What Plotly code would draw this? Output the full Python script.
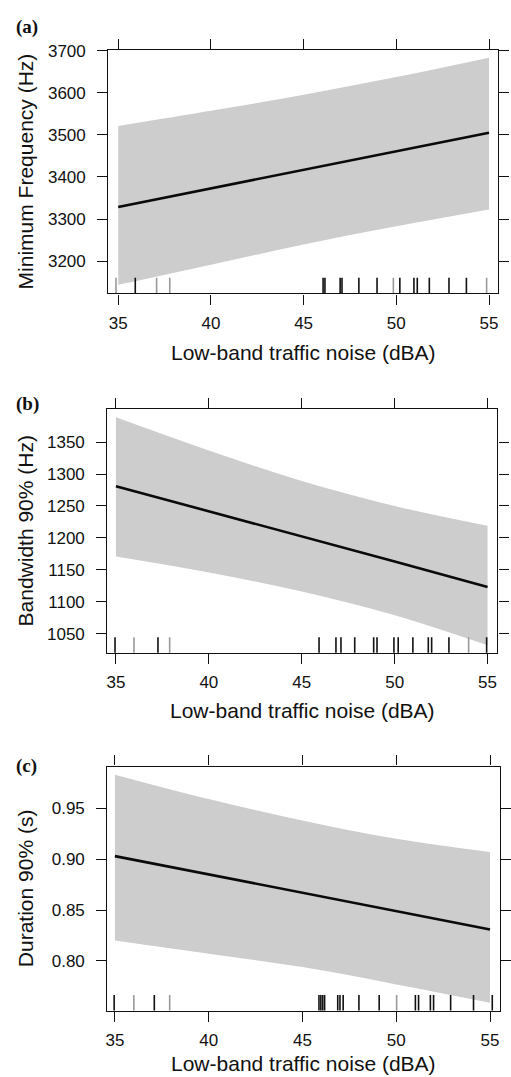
import plotly.graph_objects as go

# ---- data -----------------------------------------------------------------
noise = [35, 40, 45, 50, 55]

minfreq_fit = [3329, 3373, 3417, 3461, 3505]
minfreq_upper = [3521, 3557, 3595, 3637, 3683]
minfreq_lower = [3144, 3192, 3240, 3283, 3323]
minfreq_rug_dark = [35.92, 46.05, 46.15, 46.97, 47.07, 47.98, 48.96, 50.19,
                    50.95, 51.13, 51.78, 52.84, 53.78]
minfreq_rug_light = [34.88, 37.07, 37.78, 49.84, 54.87]

bw_fit = [1281, 1242, 1202, 1163, 1123]
bw_upper = [1389, 1337, 1289, 1250, 1219]
bw_lower = [1171, 1146, 1116, 1079, 1032]
bw_rug_dark = [34.95, 37.26, 45.93, 46.84, 47.11, 47.85, 48.87, 49.05, 49.96,
               50.19, 50.98, 51.81, 51.99, 52.92, 54.95]
bw_rug_light = [35.97, 37.89, 53.98]

dur_fit = [0.903, 0.885, 0.867, 0.849, 0.831]
dur_upper = [0.983, 0.959, 0.938, 0.920, 0.907]
dur_lower = [0.820, 0.807, 0.794, 0.777, 0.759]
dur_rug_dark = [34.96, 37.10, 45.88, 45.98, 46.08, 46.18, 46.88, 47.00, 47.17,
                48.01, 49.09, 51.02, 51.19, 51.82, 51.99, 52.90, 54.12, 55.12]
dur_rug_light = [36.01, 37.92, 50.02]

x_ticks = [35, 40, 45, 50, 55]
x_title = "Low-band traffic noise (dBA)"

panels = [
    dict(tag="(a)", ytitle="Minimum Frequency (Hz)",
         fit=minfreq_fit, upper=minfreq_upper, lower=minfreq_lower,
         rug_dark=minfreq_rug_dark, rug_light=minfreq_rug_light,
         yticks=[3200, 3300, 3400, 3500, 3600, 3700], yfmt="d",
         yrange=[3124, 3700.5], xrange=[34.47, 55.49],
         top=41.7, bottom=286.7, left=108.3, right=505.0,
         xtitle_y=346, tag_y=18),
    dict(tag="(b)", ytitle="Bandwidth 90% (Hz)",
         fit=bw_fit, upper=bw_upper, lower=bw_lower,
         rug_dark=bw_rug_dark, rug_light=bw_rug_light,
         yticks=[1050, 1100, 1150, 1200, 1250, 1300, 1350], yfmt="d",
         yrange=[1020, 1402], xrange=[34.54, 55.53],
         top=403.3, bottom=649.3, left=107.3, right=504.3,
         xtitle_y=707, tag_y=398),
    dict(tag="(c)", ytitle="Duration 90% (s)",
         fit=dur_fit, upper=dur_upper, lower=dur_lower,
         rug_dark=dur_rug_dark, rug_light=dur_rug_light,
         yticks=[0.80, 0.85, 0.90, 0.95], yfmt=".2f",
         yrange=[0.7513, 0.9909], xrange=[34.60, 55.52],
         top=764.0, bottom=1010.0, left=107.3, right=506.7,
         xtitle_y=1063, tag_y=763),
]

# ---- figure ---------------------------------------------------------------
W, H = 511, 1077
SANS = "Liberation Sans, Arial, sans-serif"
SERIF = "Liberation Serif, Times New Roman, serif"
BAND = "#cdcdcd"
INK = "#111111"

fig = go.Figure()
layout = dict(
    width=W, height=H,
    margin=dict(l=0, r=0, t=0, b=0),
    paper_bgcolor="white", plot_bgcolor="white",
    showlegend=False,
    font=dict(family=SANS, size=17, color=INK),
)
annotations = []

for i, p in enumerate(panels, start=1):
    xa = "x" if i == 1 else f"x{i}"
    ya = "y" if i == 1 else f"y{i}"
    rug_ax = f"y{i + 3}"
    xdom = [p["left"] / W, p["right"] / W]
    ydom = [1 - p["bottom"] / H, 1 - p["top"] / H]

    # confidence band
    fig.add_trace(go.Scatter(x=noise, y=p["lower"], mode="lines",
                             line=dict(width=0, color=BAND, shape="spline",
                                       smoothing=1.0),
                             xaxis=xa, yaxis=ya, hoverinfo="skip"))
    fig.add_trace(go.Scatter(x=noise, y=p["upper"], mode="lines",
                             line=dict(width=0, color=BAND, shape="spline",
                                       smoothing=1.0),
                             fill="tonexty", fillcolor=BAND,
                             xaxis=xa, yaxis=ya, hoverinfo="skip"))
    # fitted line
    fig.add_trace(go.Scatter(x=noise, y=p["fit"], mode="lines",
                             line=dict(width=2.6, color="#0a0a0a"),
                             xaxis=xa, yaxis=ya))
    # rug of observed noise levels (drawn on a 0-1 overlay axis)
    for vals, col in ((p["rug_light"], "#9a9a9a"), (p["rug_dark"], "#111111")):
        fig.add_trace(go.Scatter(
            x=vals, y=[0.027] * len(vals), mode="markers",
            marker=dict(symbol="line-ns", size=13,
                        line=dict(width=1.6, color=col)),
            xaxis=xa, yaxis=rug_ax, hoverinfo="skip"))

    axis_common = dict(
        showgrid=False, zeroline=False,
        showline=True, linecolor=INK, linewidth=1.4,
        mirror="ticks", ticks="outside", ticklen=10,
        tickwidth=1.3, tickcolor=INK,
        tickfont=dict(family=SANS, size=17, color=INK),
    )
    layout["xaxis" if i == 1 else f"xaxis{i}"] = dict(
        axis_common, domain=xdom, range=p["xrange"],
        tickmode="array", tickvals=x_ticks, anchor=ya,
        ticklabelstandoff=4,
    )
    layout["yaxis" if i == 1 else f"yaxis{i}"] = dict(
        axis_common, domain=ydom, range=p["yrange"],
        tickmode="array", tickvals=p["yticks"], tickformat=p["yfmt"],
        anchor=xa, ticklabelstandoff=8,
    )
    layout[f"yaxis{i + 3}"] = dict(
        overlaying=ya, range=[0, 1], visible=False, anchor=xa,
    )

    # axis titles and panel tag
    annotations.append(dict(
        text=x_title, xref="paper", yref="paper",
        x=(p["left"] + p["right"]) / 2 / W, y=1 - p["xtitle_y"] / H,
        xanchor="center", yanchor="middle", showarrow=False,
        font=dict(family=SANS, size=21, color=INK)))
    annotations.append(dict(
        text=p["ytitle"], xref="paper", yref="paper",
        x=24 / W, y=1 - (p["top"] + p["bottom"]) / 2 / H,
        xanchor="center", yanchor="middle", textangle=-90, showarrow=False,
        font=dict(family=SANS, size=21, color=INK)))
    annotations.append(dict(
        text=f"<b>{p['tag']}</b>", xref="paper", yref="paper",
        x=12 / W, y=1 - p["tag_y"] / H,
        xanchor="left", yanchor="middle", showarrow=False,
        font=dict(family=SERIF, size=19, color=INK)))

layout["annotations"] = annotations
fig.update_layout(**layout)
fig.write_html("out.html")
